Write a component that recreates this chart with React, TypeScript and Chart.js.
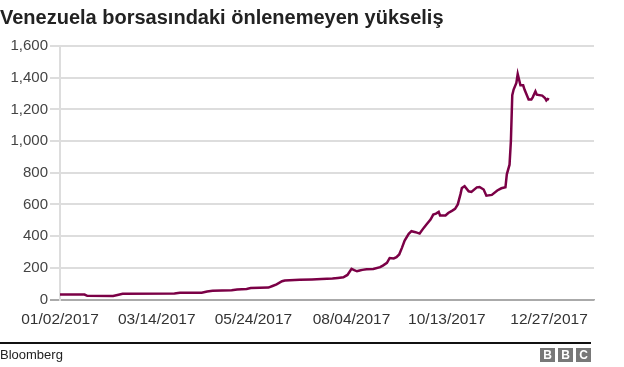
import React, { useEffect, useRef } from "react";
import { Chart, registerables } from "chart.js";

Chart.register(...registerables);

// Day offsets counted from 01/02/2017
const days: number[] = [
  0, 18, 20, 39, 43, 46, 84, 88, 104, 108, 112, 126, 130, 137, 140, 153, 156, 159, 163, 165,
  176, 185, 192, 200, 204, 208, 211, 214, 216, 218, 220, 222, 225, 230, 235, 237, 240, 242,
  245, 247, 249, 251, 253, 256, 258, 261, 264, 267, 269, 272, 274, 276, 278, 279, 283, 285,
  288, 290, 292, 294, 295, 297, 300, 302, 306, 308, 311, 313, 317, 321, 324, 327, 328, 330,
  331, 332, 333, 335, 336, 338, 340, 341, 344, 346, 347, 349, 350, 354, 356, 357, 358, 359,
];

const values: number[] = [
  31, 31, 23, 22, 30, 36, 38, 42, 43, 50, 55, 58, 63, 66, 73, 75, 85, 95, 115, 120,
  124, 127, 130, 132, 136, 140, 155, 193, 185, 178, 183, 187, 191, 193, 204, 214, 231, 262,
  259, 267, 284, 326, 372, 414, 431, 425, 416, 452, 473, 505, 536, 542, 553, 530, 530, 546,
  561, 572, 600, 665, 704, 715, 683, 679, 708, 710, 694, 655, 660, 688, 702, 708, 790, 851,
  1000, 1290, 1325, 1367, 1423, 1352, 1352, 1325, 1262, 1262, 1276, 1314, 1293, 1287, 1272, 1257, 1266, 1262,
];

const tickDays: number[] = [0, 71, 142, 214, 284, 359];
const tickLabels: string[] = ["01/02/2017", "03/14/2017", "05/24/2017", "08/04/2017", "10/13/2017", "12/27/2017"];

const TITLE = "Venezuela borsasındaki önlenemeyen yükseliş";
const SOURCE = "Bloomberg";

const FONT = "'Liberation Sans', Arial, Helvetica, sans-serif";

export default function App() {
  const ref = useRef<HTMLCanvasElement | null>(null);

  useEffect(() => {
    if (!ref.current) return;
    const chart = new Chart(ref.current, {
      type: "line",
      data: {
        datasets: [
          {
            data: days.map((d, i) => ({ x: d, y: values[i] })),
            borderColor: "#7b0046",
            borderWidth: 2.5,
            pointRadius: 0,
            tension: 0,
            fill: false,
          },
        ],
      },
      options: {
        animation: false,
        responsive: false,
        maintainAspectRatio: false,
        layout: { padding: { top: 46, right: 30, bottom: 0, left: 0 } },
        plugins: {
          legend: { display: false },
          tooltip: { enabled: false },
          title: { display: false },
        },
        scales: {
          x: {
            type: "linear",
            min: 0,
            max: 392,
            afterBuildTicks: (s: any) => {
              s.ticks = tickDays.map((v) => ({ value: v }));
            },
            afterFit: (s: any) => {
              s.height = 67.5;
            },
            ticks: {
              autoSkip: false,
              maxRotation: 0,
              padding: 11,
              color: "#333",
              font: { family: FONT, size: 15.5 },
              callback: (v: any) => {
                const i = tickDays.indexOf(Number(v));
                return i >= 0 ? tickLabels[i] : "";
              },
            },
            grid: { display: false, drawTicks: false },
            border: { display: true, color: "#aaaaaa", width: 1.5 },
          },
          y: {
            min: 0,
            max: 1600,
            afterFit: (s: any) => {
              s.width = 60;
            },
            ticks: {
              stepSize: 200,
              padding: 2,
              color: "#444",
              font: { family: FONT, size: 15 },
              callback: (v: any) => Number(v).toLocaleString("en-US"),
            },
            grid: {
              color: (c: any) => (c.tick && c.tick.value === 0 ? "#aaaaaa" : "#dddddd"),
              lineWidth: 2,
              tickLength: 10,
            },
            border: { display: true, color: "#dddddd", width: 2 },
          },
        },
      },
    });
    return () => chart.destroy();
  }, []);

  return (
    <div style={{ position: "absolute", left: 0, top: 0, width: 624, height: 367, background: "#fff", overflow: "hidden" }}>
      <canvas ref={ref} width={624} height={367} style={{ position: "absolute", left: 0, top: 0, width: 624, height: 367 }} />
      <div
        style={{
          position: "absolute",
          left: 0,
          top: 5,
          font: `bold 20px ${FONT}`,
          lineHeight: "24px",
          color: "#222",
          whiteSpace: "nowrap",
        }}
      >
        {TITLE}
      </div>
      <div style={{ position: "absolute", left: 0, top: 342, width: 591, height: 2, background: "#111" }} />
      <div
        style={{
          position: "absolute",
          left: 0,
          top: 347,
          font: `13px ${FONT}`,
          lineHeight: "16px",
          color: "#222",
        }}
      >
        {SOURCE}
      </div>
      <div style={{ position: "absolute", left: 540, top: 348, display: "flex", gap: 3 }}>
        {["B", "B", "C"].map((l, i) => (
          <div
            key={i}
            style={{
              width: 15,
              height: 14,
              background: "#787878",
              color: "#fff",
              font: `bold 12px ${FONT}`,
              lineHeight: "14px",
              textAlign: "center",
            }}
          >
            {l}
          </div>
        ))}
      </div>
    </div>
  );
}
